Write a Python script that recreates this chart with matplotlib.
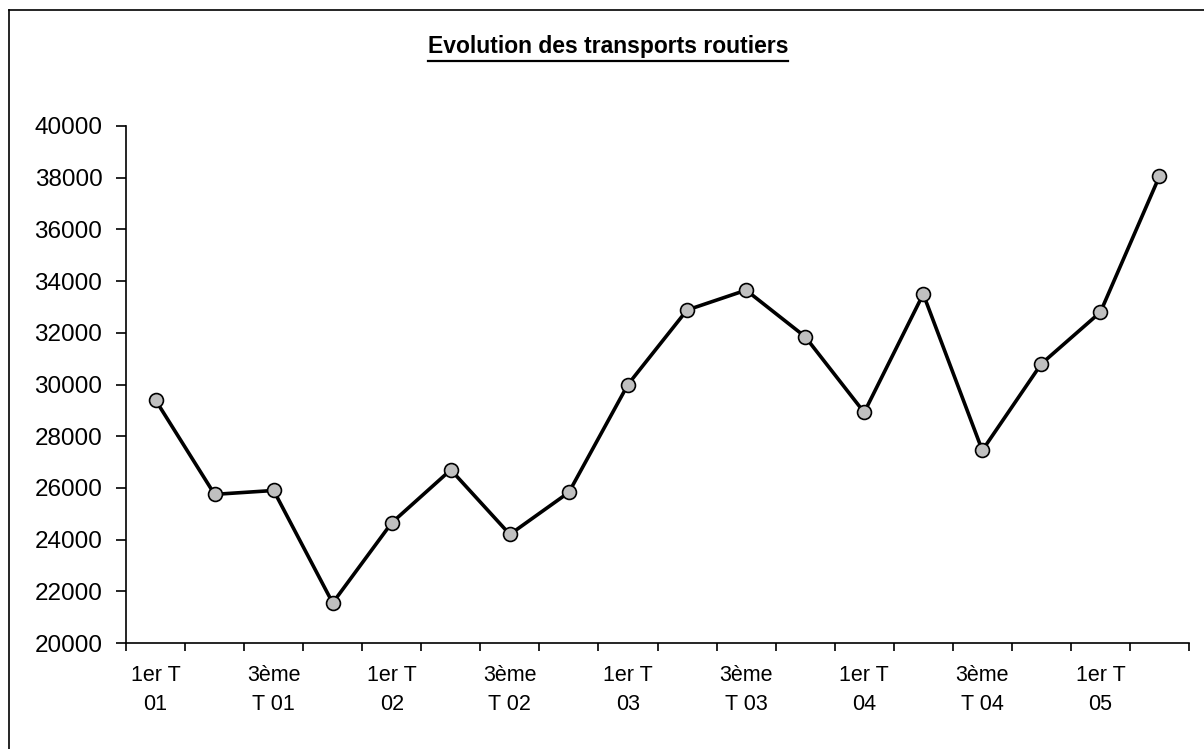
import matplotlib
matplotlib.use("Agg")
import matplotlib.pyplot as plt
from matplotlib.lines import Line2D

plt.rcParams['font.family'] = ['Liberation Sans', 'DejaVu Sans']

# quarterly values, 1er T 01 .. 2ème T 05
quarters = ["1er T 01", "2ème T 01", "3ème T 01", "4ème T 01",
            "1er T 02", "2ème T 02", "3ème T 02", "4ème T 02",
            "1er T 03", "2ème T 03", "3ème T 03", "4ème T 03",
            "1er T 04", "2ème T 04", "3ème T 04", "4ème T 04",
            "1er T 05", "2ème T 05"]
values = [29400, 25750, 25900, 21550, 24650, 26700, 24200, 25830,
          30000, 32880, 33650, 31850, 28920, 33500, 27450, 30800,
          32800, 38060]
tick_labels = ["1er T\n01", "3ème\nT 01", "1er T\n02", "3ème\nT 02",
               "1er T\n03", "3ème\nT 03", "1er T\n04", "3ème\nT 04",
               "1er T\n05"]
y_ticks = list(range(20000, 40001, 2000))

W, H = 1204, 749
fig = plt.figure(figsize=(W / 100, H / 100), dpi=100)
ax = fig.add_axes([126 / W, 1 - 643 / H, (1189 - 126) / W, (643 - 126) / H])

x = list(range(len(values)))
ax.plot(x, values, color='black', lw=2.6, marker='o', ms=10,
        mfc='#c0c0c0', mec='black', mew=1.2, zorder=3)

ax.set_xlim(-0.5, len(values) - 0.5)
ax.set_ylim(20000, 40000)
ax.set_yticks(y_ticks)
ax.set_yticklabels([str(v) for v in y_ticks], fontsize=17.5)

# labels on every other quarter, ticks on the category borders
ax.set_xticks(x[::2])
ax.set_xticklabels(tick_labels, fontsize=15.5, linespacing=1.5)
ax.set_xticks([i - 0.5 for i in range(len(values) + 1)], minor=True)
ax.tick_params(axis='x', which='major', length=0, pad=16)
ax.tick_params(axis='x', which='minor', length=6, width=1.2, direction='out')
ax.tick_params(axis='y', length=7, width=1.2, pad=10)

for side in ['top', 'right']:
    ax.spines[side].set_visible(False)
for side in ['left', 'bottom']:
    ax.spines[side].set_linewidth(1.2)

title = fig.text(608 / W, 1 - 47 / H, "Evolution des transports routiers",
                 fontsize=16.5, fontweight='bold', ha='center', va='center')

# underline the title
fig.canvas.draw()
bb = title.get_window_extent()
uy = bb.y0 - 2
fig.add_artist(Line2D([bb.x0 / W, bb.x1 / W], [uy / H, uy / H],
                      transform=fig.transFigure, color='black', lw=1.6))

# chart frame (left and top edges visible)
fig.add_artist(Line2D([8.5 / W, 8.5 / W], [0, 1 - 10 / H],
                      transform=fig.transFigure, color='black', lw=1.2))
fig.add_artist(Line2D([8.5 / W, 1], [1 - 10 / H, 1 - 10 / H],
                      transform=fig.transFigure, color='black', lw=1.2))

fig.savefig("out.png", dpi=100)
